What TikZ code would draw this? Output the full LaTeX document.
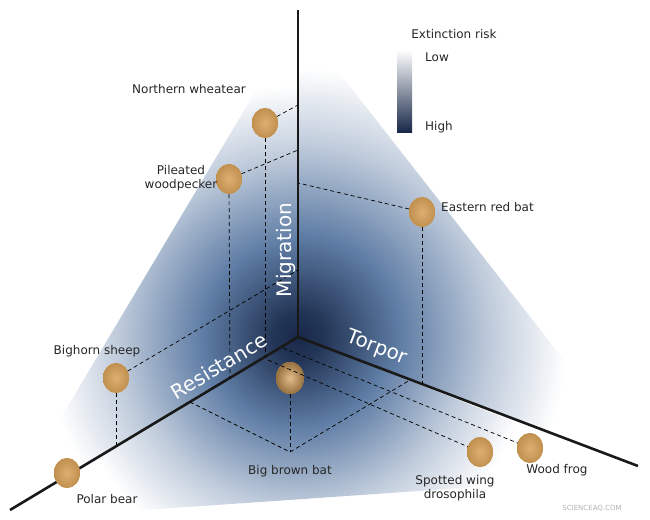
\documentclass[tikz,border=0pt]{standalone}
\usepackage{fontspec}
\setmainfont{DejaVu Sans}
\usetikzlibrary{shapes.geometric}
\definecolor{navy}{RGB}{24,40,72}
\definecolor{midb}{RGB}{95,125,165}
\definecolor{ball}{RGB}{214,160,88}
\pgfdeclareradialshading{fadeb}{\pgfpoint{0bp}{0bp}}{color(0bp)=(navy); color(2bp)=(navy!85!midb); color(8bp)=(midb); color(15bp)=(midb!40!white); color(21bp)=(white); color(50bp)=(white)}
\begin{document}
\begin{tikzpicture}[x=1pt,y=-1pt,
  lbl/.style={font=\fontsize{12}{14.5}\selectfont,text=black!85,inner sep=1pt},
  axl/.style={font=\fontsize{20}{22}\selectfont,text=white,inner sep=0pt},
  dot/.style={ellipse,minimum width=26pt,minimum height=30pt,inner sep=0pt,fill=ball,
     shading=radial,inner color=ball!85!white,outer color=ball!90!black},
  dsh/.style={dashed,line width=0.7pt,dash pattern=on 4pt off 3pt},
  axis/.style={line width=2.6pt,black!90}]
\useasboundingbox (0,0) rectangle (650,519);
% planes
\begin{scope}
 \clip (298,337) -- (298,20) -- (0,520) -- cycle;
 \shade[shading=fadeb] (298,337) circle (300);
\end{scope}
\begin{scope}
 \clip (298,337) -- (298,20) -- (650,470) -- cycle;
 \shade[shading=fadeb] (298,337) circle (320);
\end{scope}
\begin{scope}
 \clip (298,337) -- (0,520) -- (650,475) -- cycle;
 \shade[shading=fadeb] (298,337) circle (280);
\end{scope}
% axes
\coordinate (O) at (298,337);
\coordinate (U) at (298,10);
\coordinate (L) at (10,510);
\coordinate (R) at (638,466);
\draw[axis] (O) -- (U);
\draw[axis] (O) -- (L);
\draw[axis] (O) -- (R);
% balls
\node[dot] (nw) at (265,123) {};
\node[dot] (pw) at (229,179) {};
\node[dot] (erb) at (422,212) {};
\node[dot] (bs) at (116,378) {};
\node[dot] (pb) at (67,473) {};
\node[dot,minimum width=28pt,minimum height=32pt,inner color=ball!70!white,outer color=ball!70!black] (bbb) at (290,378) {};
\node[dot] (sw) at (480,452) {};
\node[dot] (wf) at (530,448) {};
% projection points
\coordinate (nwU) at (298,105); \coordinate (nwL) at (265,357);
\coordinate (pwU) at (298,150); \coordinate (pwL) at (230,378);
\coordinate (erbU) at (298,183); \coordinate (erbR) at (422,384);
\coordinate (bsU) at (298,270); \coordinate (bsL) at (116,446);
\coordinate (bbF) at (290,452); \coordinate (bbL) at (190,402); \coordinate (bbR) at (410,380);
\coordinate (swL) at (268,360); \coordinate (wfL) at (283,348);
\draw[dsh] (nw) -- (nwU); \draw[dsh] (nw) -- (nwL);
\draw[dsh] (pw) -- (pwU); \draw[dsh] (pw) -- (pwL);
\draw[dsh] (erb) -- (erbU); \draw[dsh] (erb) -- (erbR);
\draw[dsh] (bs) -- (bsU); \draw[dsh] (bs) -- (bsL);
\draw[dsh] (bbb) -- (bbF); \draw[dsh] (bbL) -- (bbF) -- (bbR);
\draw[dsh] (swL) -- (sw); \draw[dsh] (wfL) -- (wf);
% labels
\node[lbl] (tnw) at (189,89) {Northern wheatear};
\node[lbl,align=center] (tpw) at (181,178) {Pileated\\woodpecker};
\node[lbl,anchor=west] (terb) at (440,207) {Eastern red bat};
\node[lbl] (tbs) at (97,351) {Bighorn sheep};
\node[lbl] (tpb) at (107,499) {Polar bear};
\node[lbl] (tbbb) at (290,471) {Big brown bat};
\node[lbl,align=center] (tsw) at (455,488) {Spotted wing\\drosophila};
\node[lbl] (twf) at (557,470) {Wood frog};
% axis labels
\node[axl,rotate=90] (tm) at (286,250) {Migration};
\node[axl,rotate=31] (tr) at (219,366) {Resistance};
\node[axl,rotate=-21] (tt) at (377,348) {Torpor};
% legend
\node[lbl] (leg) at (454,34) {Extinction risk};
\shade[top color=white,bottom color=navy] (397,50) rectangle (412,132);
\node[lbl] (low) at (437,57) {Low};
\node[lbl] (high) at (439,127) {High};
\node[font=\fontsize{7}{8}\selectfont,text=black!30] (wm) at (592,508) {SCIENCEAQ.COM};
\end{tikzpicture}
\end{document}
